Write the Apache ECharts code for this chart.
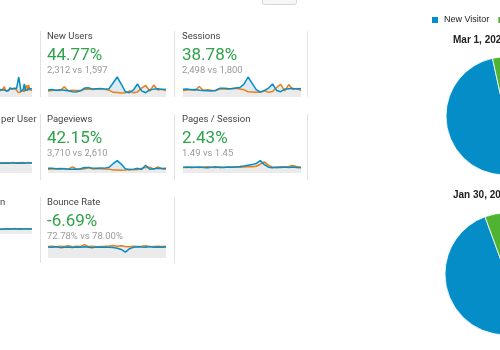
<!DOCTYPE html>
<html>
<head>
<meta charset="utf-8">
<script src="https://cdn.jsdelivr.net/npm/echarts@6/dist/echarts.min.js"></script>
<style>
  html, body { margin: 0; padding: 0; background: #fff; }
  #main { width: 500px; height: 350px; }
</style>
</head>
<body>
<div id="main"></div>
<script>
// daily values, current period (blue) vs previous period (orange)
var days = []
for (var d = 1; d <= 30; d++) days.push(d)

var usersCur = [72, 76, 68, 72, 68, 62, 56, 52, 62, 88, 90, 80, 82, 84, 78, 82, 136, 192, 126, 54, 44, 70, 126, 62, 44, 70, 78, 82, 74, 78]
var usersPrev = [60, 66, 70, 64, 100, 62, 68, 66, 64, 76, 78, 74, 80, 82, 76, 68, 48, 46, 42, 44, 62, 44, 52, 88, 114, 60, 116, 70, 78, 62]

var newUsersCur = [66, 70, 62, 68, 64, 58, 50, 48, 58, 84, 86, 76, 78, 80, 74, 78, 132, 188, 122, 50, 40, 66, 122, 58, 40, 66, 74, 78, 70, 74]
var newUsersPrev = [56, 62, 66, 60, 96, 58, 64, 62, 60, 72, 74, 70, 76, 78, 72, 64, 44, 42, 38, 40, 58, 40, 48, 84, 110, 56, 112, 66, 74, 58]

var sessionsCur = [74, 76, 68, 72, 64, 62, 60, 56, 62, 82, 84, 80, 78, 86, 90, 122, 190, 130, 70, 46, 60, 84, 124, 62, 50, 74, 78, 82, 76, 80]
var sessionsPrev = [62, 66, 72, 64, 100, 62, 68, 64, 62, 76, 78, 74, 80, 82, 76, 68, 50, 48, 44, 46, 62, 44, 52, 90, 120, 58, 118, 70, 82, 62]

var spuCur = [1.07, 1.08, 1.06, 1.08, 1.07, 1.09, 1.08, 1.07, 1.06, 1.08, 1.09, 1.07, 1.08, 1.06, 1.07, 1.09, 1.10, 1.08, 1.07, 1.06, 1.08, 1.09, 1.07, 1.08, 1.10, 1.07, 1.08, 1.06, 1.08, 1.07]
var spuPrev = [1.12, 1.13, 1.11, 1.14, 1.12, 1.13, 1.12, 1.14, 1.11, 1.13, 1.12, 1.14, 1.13, 1.12, 1.11, 1.13, 1.12, 1.14, 1.13, 1.12, 1.13, 1.11, 1.12, 1.14, 1.13, 1.12, 1.13, 1.11, 1.12, 1.13]

var pageviewsCur = [120, 126, 112, 118, 110, 100, 96, 94, 110, 140, 134, 126, 124, 130, 126, 150, 240, 320, 230, 110, 86, 100, 120, 90, 200, 96, 110, 124, 118, 122]
var pageviewsPrev = [96, 104, 110, 100, 116, 98, 160, 104, 100, 110, 150, 104, 108, 112, 106, 100, 80, 76, 72, 78, 96, 82, 88, 120, 140, 150, 98, 160, 112, 94]

var ppsCur = [1.40, 1.52, 1.36, 1.44, 1.50, 1.38, 1.32, 1.46, 1.54, 1.40, 1.36, 1.48, 1.44, 1.52, 1.60, 1.74, 1.92, 2.10, 2.40, 3.10, 2.10, 1.46, 1.30, 1.42, 1.36, 1.48, 1.40, 1.52, 1.38, 1.34]
var ppsPrev = [1.46, 1.40, 1.50, 1.42, 1.36, 1.48, 1.54, 1.44, 1.40, 1.50, 1.46, 1.42, 1.52, 1.48, 1.44, 1.50, 1.62, 1.56, 1.70, 2.20, 2.80, 1.90, 1.50, 1.40, 1.56, 1.48, 1.62, 1.90, 1.60, 1.42]

var durationCur = [62, 66, 58, 64, 60, 63, 61, 59, 65, 62, 60, 64, 63, 61, 66, 62, 60, 64, 63, 61, 62, 70, 63, 60, 64, 62, 61, 63, 62, 64]
var durationPrev = [58, 60, 62, 57, 61, 59, 63, 58, 60, 62, 59, 61, 60, 58, 62, 60, 59, 61, 58, 60, 61, 59, 62, 68, 60, 59, 61, 60, 62, 60]

var bounceCur = [74, 72, 76, 70, 73, 75, 71, 74, 72, 76, 73, 70, 74, 72, 75, 73, 71, 66, 58, 40, 62, 72, 76, 74, 73, 78, 72, 75, 73, 74]
var bouncePrev = [78, 80, 76, 79, 77, 82, 76, 79, 78, 90, 77, 80, 76, 78, 79, 81, 84, 80, 82, 78, 76, 80, 77, 79, 83, 76, 78, 80, 77, 79]

// user type share (%)
var visitorTypes = ['New Visitor', 'Returning Visitor']
var visitorsMar = [96.6, 3.4]
var visitorsJan = [94.4, 5.6]

// card layout
var cards = [
  { title: 'Users', x: -87, row: 0, cur: usersCur, prev: usersPrev },
  { title: 'New Users', value: '44.77%', sub: '2,312 vs 1,597', x: 47, row: 0, cur: newUsersCur, prev: newUsersPrev },
  { title: 'Sessions', value: '38.78%', sub: '2,498 vs 1,800', x: 182, row: 0, cur: sessionsCur, prev: sessionsPrev },
  { title: 'Number of Sessions per User', x: -87, row: 1, cur: spuCur, prev: spuPrev, top: 162, h: 11 },
  { title: 'Pageviews', value: '42.15%', sub: '3,710 vs 2,610', x: 47, row: 1, cur: pageviewsCur, prev: pageviewsPrev },
  { title: 'Pages / Session', value: '2.43%', sub: '1.49 vs 1.45', x: 182, row: 1, cur: ppsCur, prev: ppsPrev },
  { title: 'Avg. Session Duration', x: -87, row: 2, cur: durationCur, prev: durationPrev, top: 228, h: 6 },
  { title: 'Bounce Rate', value: '-6.69%', sub: '72.78% vs 78.00%', x: 47, row: 2, cur: bounceCur, prev: bouncePrev }
]
var rowY = [0, 83, 166]
var sparkTop = [76, 160, 244]
var sparkH = [21, 13, 14]
var seps = [[40, 174, 307], [40, 174, 307], [40, 174]]

var BLUE = '#058dc7'
var ORANGE = '#ed7e17'
var GREEN = '#50b432'

var grids = [], xAxes = [], yAxes = [], series = [], graphics = []

cards.forEach(function (c, i) {
  var ry = rowY[c.row]
  grids.push({
    left: c.x + 1,
    top: c.top != null ? c.top : sparkTop[c.row],
    width: 118,
    height: c.h != null ? c.h : sparkH[c.row]
  })
  xAxes.push({ gridIndex: i, type: 'category', boundaryGap: false, show: false, data: days })
  yAxes.push({
    gridIndex: i, type: 'value', show: false, min: 0,
    max: function (v) { return v.max * 1.05 }
  })
  var base = { xAxisIndex: i, yAxisIndex: i, type: 'line', symbol: 'none', silent: true }
  // fills first, then lines on top
  series.push(Object.assign({}, base, {
    data: c.cur, z: 1, lineStyle: { width: 0 },
    areaStyle: { color: '#dcebf3', opacity: 1 }
  }))
  series.push(Object.assign({}, base, {
    data: c.prev, z: 2, lineStyle: { width: 0 },
    areaStyle: { color: '#ebebeb', opacity: 1 }
  }))
  series.push(Object.assign({}, base, {
    data: c.prev, z: 3, lineStyle: { width: 1.5, color: ORANGE }
  }))
  series.push(Object.assign({}, base, {
    data: c.cur, z: 4, lineStyle: { width: 1.5, color: BLUE }
  }))

  graphics.push({
    type: 'text', silent: true,
    style: { text: c.title, x: c.x, y: 37 + ry, fill: '#444', font: '9.5px Roboto', verticalAlign: 'middle' }
  })
  if (c.value) {
    graphics.push({
      type: 'text', silent: true,
      style: { text: c.value, x: c.x, y: 56 + ry, fill: '#2fa24b', font: '17px Roboto', verticalAlign: 'middle' }
    })
    graphics.push({
      type: 'text', silent: true,
      style: { text: c.sub, x: c.x, y: 71 + ry, fill: '#9a9a9a', font: '9.5px Roboto', verticalAlign: 'middle' }
    })
  }
})

// card separators
seps.forEach(function (row, r) {
  row.forEach(function (x) {
    graphics.push({
      type: 'line', silent: true,
      shape: { x1: x + 0.5, y1: 31 + rowY[r], x2: x + 0.5, y2: 97 + rowY[r] },
      style: { stroke: '#e2e2e2', lineWidth: 1 }
    })
  })
})

// cut-off button at the top
graphics.push({
  type: 'rect', silent: true,
  shape: { x: 262.5, y: -8.5, width: 34, height: 13, r: 2 },
  style: { fill: '#f6f6f6', stroke: '#d6d6d6', lineWidth: 1 }
})

// pie titles
graphics.push({
  type: 'text', silent: true,
  style: { text: 'Mar 1, 2020 - Mar 30, 2020', x: 453, y: 40, fill: '#222', font: 'bold 10px "Liberation Sans"', verticalAlign: 'middle' }
})
graphics.push({
  type: 'text', silent: true,
  style: { text: 'Jan 30, 2020 - Feb 28, 2020', x: 453, y: 195, fill: '#222', font: 'bold 10px "Liberation Sans"', verticalAlign: 'middle' }
})

function pieData(vals) {
  return visitorTypes.map(function (n, k) { return { name: n, value: vals[k] } })
}

series.push({
  type: 'pie', center: [505, 116], radius: 59, startAngle: 90, clockwise: true,
  label: { show: false }, labelLine: { show: false }, silent: true,
  itemStyle: { borderColor: '#fff', borderWidth: 0.8 },
  data: pieData(visitorsMar)
})
series.push({
  type: 'pie', center: [506, 274], radius: 61, startAngle: 90, clockwise: true,
  label: { show: false }, labelLine: { show: false }, silent: true,
  itemStyle: { borderColor: '#fff', borderWidth: 0.8 },
  data: pieData(visitorsJan)
})

var chart = echarts.init(document.getElementById('main'))
chart.setOption({
  animation: false,
  color: [BLUE, GREEN],
  legend: {
    data: visitorTypes,
    orient: 'horizontal',
    left: 430,
    top: 15,
    width: 400,
    padding: 0,
    icon: 'rect',
    itemWidth: 8,
    itemHeight: 8,
    itemGap: 7,
    textStyle: { fontSize: 9, fontFamily: '"Liberation Sans", Arial', color: '#222' }
  },
  grid: grids,
  xAxis: xAxes,
  yAxis: yAxes,
  series: series,
  graphic: graphics
})
</script>
</body>
</html>
